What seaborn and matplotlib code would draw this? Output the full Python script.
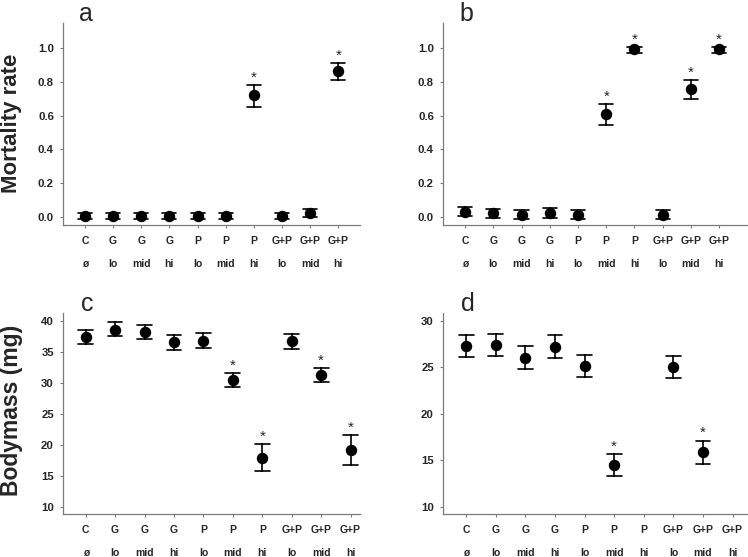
import numpy as np
import pandas as pd
import matplotlib
matplotlib.use("Agg")
import matplotlib.pyplot as plt
import seaborn as sns

sns.set_style("white")
plt.rcParams['font.family'] = ['Liberation Sans', 'DejaVu Sans']

# ---- data ----
row1 = ["C", "G", "G", "G", "P", "P", "P", "G+P", "G+P", "G+P"]
row2 = ["ø", "lo", "mid", "hi", "lo", "mid", "hi", "lo", "mid", "hi"]
groups = [f"{a} {b}" for a, b in zip(row1, row2)]

mort_a_mean = [0.004, 0.004, 0.004, 0.004, 0.004, 0.004, 0.720, 0.004, 0.024, 0.864]
mort_a_lo   = [-0.012, -0.012, -0.012, -0.012, -0.012, -0.012, 0.649, -0.012, 0.002, 0.813]
mort_a_hi   = [0.022, 0.022, 0.022, 0.022, 0.022, 0.022, 0.781, 0.022, 0.047, 0.911]
mort_a_sig  = [0, 0, 0, 0, 0, 0, 1, 0, 0, 1]

mort_b_mean = [0.032, 0.022, 0.014, 0.022, 0.014, 0.607, 0.994, 0.014, 0.755, 0.994]
mort_b_lo   = [0.006, -0.004, -0.010, -0.004, -0.010, 0.542, 0.972, -0.010, 0.698, 0.972]
mort_b_hi   = [0.061, 0.049, 0.039, 0.051, 0.039, 0.669, 1.004, 0.039, 0.809, 1.004]
mort_b_sig  = [0, 0, 0, 0, 0, 1, 1, 0, 1, 1]

mass_c_mean = [37.42, 38.55, 38.17, 36.50, 36.77, 30.47, 17.92, 36.66, 31.17, 19.10]
mass_c_lo   = [36.28, 37.47, 37.04, 35.30, 35.64, 29.34, 15.76, 35.45, 30.04, 16.78]
mass_c_hi   = [38.55, 39.73, 39.35, 37.63, 38.00, 31.60, 20.12, 37.85, 32.35, 21.52]
mass_c_sig  = [0, 0, 0, 0, 0, 1, 1, 0, 1, 1]

mass_d_mean = [27.31, 27.34, 26.01, 27.20, 25.15, 14.45, np.nan, 25.04, 15.85, np.nan]
mass_d_lo   = [26.09, 26.16, 24.83, 25.98, 23.97, 13.27, np.nan, 23.82, 14.60, np.nan]
mass_d_hi   = [28.49, 28.56, 27.24, 28.42, 26.34, 15.67, np.nan, 26.23, 17.11, np.nan]
mass_d_sig  = [0, 0, 0, 0, 0, 1, 0, 0, 1, 0]

W, H = 748, 557
fig = plt.figure(figsize=(W / 100, H / 100), dpi=100)

def px_axes(left, right, top, bottom):
    return fig.add_axes([left / W, 1 - bottom / H, (right - left) / W, (bottom - top) / H])

panels = [
    dict(ax=px_axes(63, 360, 23, 225), mean=mort_a_mean, lo=mort_a_lo, hi=mort_a_hi,
         sig=mort_a_sig, letter="a", ylim=(-0.047, 1.148), xlim=(-0.78, 9.77),
         yticks=[0.0, 0.2, 0.4, 0.6, 0.8, 1.0], fmt="{:.1f}"),
    dict(ax=px_axes(443, 748, 23, 225), mean=mort_b_mean, lo=mort_b_lo, hi=mort_b_hi,
         sig=mort_b_sig, letter="b", ylim=(-0.047, 1.148), xlim=(-0.78, 10.02),
         yticks=[0.0, 0.2, 0.4, 0.6, 0.8, 1.0], fmt="{:.1f}"),
    dict(ax=px_axes(63, 360, 313, 514), mean=mass_c_mean, lo=mass_c_lo, hi=mass_c_hi,
         sig=mass_c_sig, letter="c", ylim=(8.82, 41.24), xlim=(-0.77, 9.32),
         yticks=[10, 15, 20, 25, 30, 35, 40], fmt="{:d}"),
    dict(ax=px_axes(443, 748, 313, 514), mean=mass_d_mean, lo=mass_d_lo, hi=mass_d_hi,
         sig=mass_d_sig, letter="d", ylim=(9.21, 30.83), xlim=(-0.78, 9.52),
         yticks=[10, 15, 20, 25, 30], fmt="{:d}"),
]

spine_col = "#7a7a7a"

for p in panels:
    ax = p["ax"]
    rows = []
    for g, m, lo, hi in zip(groups, p["mean"], p["lo"], p["hi"]):
        if np.isnan(m):
            continue
        for v in (lo, m, hi):
            rows.append({"group": g, "value": v})
    df = pd.DataFrame(rows)
    sns.pointplot(data=df, x="group", y="value", order=groups,
                  estimator=np.median, errorbar=lambda v: (v.min(), v.max()),
                  color="black", markers="o", markersize=6.2, linestyle="none",
                  capsize=0.5, err_kws={"linewidth": 1.2}, ax=ax)
    ax.set_xlim(*p["xlim"])
    ax.set_ylim(*p["ylim"])
    ax.set_xlabel("")
    ax.set_ylabel("")
    ax.set_yticks(p["yticks"])
    ax.set_yticklabels([p["fmt"].format(t) for t in p["yticks"]],
                       fontsize=8.2, fontweight="bold")
    ax.set_xticks(range(len(groups)))
    ax.set_xticklabels([])
    ax.tick_params(axis="both", direction="out", length=2.5, width=0.8,
                   color=spine_col, pad=4, left=True, bottom=True)
    for s in ("top", "right"):
        ax.spines[s].set_visible(False)
    for s in ("left", "bottom"):
        ax.spines[s].set_color(spine_col)
        ax.spines[s].set_linewidth(0.9)
    # two rows of category labels
    for i, (r1, r2) in enumerate(zip(row1, row2)):
        ax.annotate(r1, xy=(i, 0), xycoords=("data", "axes fraction"),
                    xytext=(0, -11.8), textcoords="offset points",
                    ha="center", va="center", fontsize=7.5, fontweight="bold")
        ax.annotate(r2, xy=(i, 0), xycoords=("data", "axes fraction"),
                    xytext=(0, -28.2), textcoords="offset points",
                    ha="center", va="center", fontsize=7.5, fontweight="bold")
    # significance stars
    for i, (s, hi) in enumerate(zip(p["sig"], p["hi"])):
        if s:
            ax.annotate("*", xy=(i, hi), xycoords="data",
                        xytext=(0, 2.5), textcoords="offset points",
                        ha="center", va="baseline", fontsize=11)
    # panel letter
    ax.annotate(p["letter"], xy=(0, 1), xycoords=("data", "axes fraction"),
                xytext=(1, 1.5), textcoords="offset points",
                ha="center", va="baseline", fontsize=18, annotation_clip=False)

fig.text(12 / W, 1 - 123 / H, "Mortality rate", rotation=90, ha="center",
         va="center", fontsize=16, fontweight="bold")
fig.text(12 / W, 1 - 410 / H, "Bodymass (mg)", rotation=90, ha="center",
         va="center", fontsize=16.5, fontweight="bold")

fig.savefig("out.png", dpi=100)
